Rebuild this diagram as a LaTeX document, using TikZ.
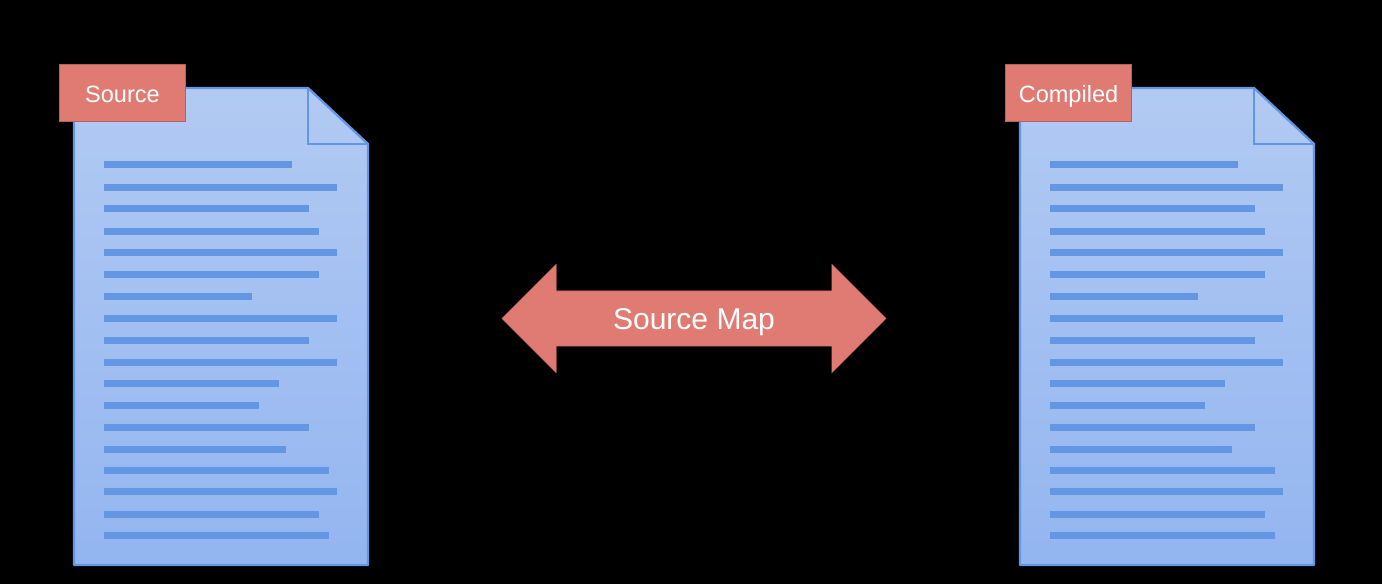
\documentclass[tikz,border=0pt]{standalone}
\usepackage{fontspec}
\setmainfont{Liberation Sans}
\usetikzlibrary{shapes.arrows}
\definecolor{docline}{HTML}{6397E4}
\definecolor{doctop}{HTML}{B2CAF3}
\definecolor{docbottom}{HTML}{93B5F0}
\definecolor{tagfill}{HTML}{E07B73}
\definecolor{tagline}{HTML}{B5625C}
\tikzset{
 docsheet/.style={draw=docline,line width=1.3pt,line join=round,top color=doctop,bottom color=docbottom},
 foldline/.style={draw=docline,line width=1.3pt},
 textline/.style={docline,line width=4pt},
 tagbox/.style={draw=tagline,line width=0.6pt,fill=tagfill,text=white,inner sep=0pt,minimum width=72.2pt,text height=21.3pt,text depth=10.8pt,font=\fontsize{13.4}{16}\selectfont},
 maparrow/.style={shape=double arrow,fill=tagfill,draw=tagline,line width=0.2pt,text=white,inner sep=0pt,outer sep=0pt,text height=21.6pt,text depth=9.6pt,double arrow head extend=15.3pt,minimum width=61.8pt,minimum height=218.8pt,font=\fontsize{17.1}{20}\selectfont}
}
\begin{document}
\begin{tikzpicture}[x=0.02cm,y=-0.02cm]
 \fill[black,use as bounding box] (0,0) rectangle (1382,584);
 % both sheets
 \foreach \o in {0,946}{
 \begin{scope}[xshift=\o*0.02cm]
 \path[docsheet] (74,88)--(308,88)--(368,144)--(368,565)--(74,565)--cycle;
 \draw[foldline] (308,88)--(308,144)--(368,144);
 \foreach \y/\e in {164.5/292,187.5/337,208.5/309,231.5/319,252.5/337,274.5/319,296.5/252,318.5/337,340.5/309,362.5/337,383.5/279,405.5/259,427.5/309,449.5/286,470.5/329,491.5/337,514.5/319,535.5/329}
 \draw[textline] (104,\y)--(\e,\y);
 \end{scope}
 }
 \node[tagbox] (source) at (122.5,93) {Source};
 \node[tagbox] (compiled) at (1068.5,93) {Compiled};
 \node[maparrow] (map) at (694,318.5) {Source Map};
\end{tikzpicture}
\end{document}
